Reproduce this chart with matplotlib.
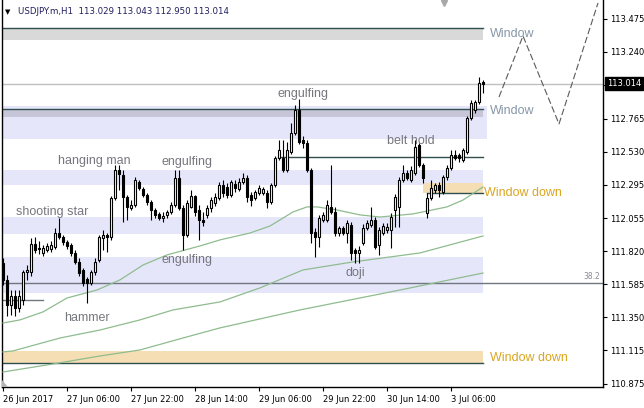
import matplotlib
matplotlib.use("Agg")
import matplotlib.pyplot as plt
from matplotlib.transforms import blended_transform_factory
import numpy as np

# H1 candles, USDJPY.m, 26 Jun 14:00 .. 3 Jul 14:00
opens = [
    111.737, 111.616, 111.438, 111.502, 111.416, 111.473, 111.673, 111.673, 111.872, 111.844,
    111.808, 111.829, 111.836, 111.851, 111.950, 111.922, 111.886, 111.865, 111.808, 111.744,
    111.687, 111.623, 111.594, 111.673, 111.758, 111.915, 111.936, 111.922, 112.200, 112.399,
    112.364, 112.207, 112.128, 112.150, 112.314, 112.264, 112.221, 112.171, 112.114, 112.086,
    112.057, 112.079, 112.100, 112.150, 112.342, 112.128, 111.936, 112.136, 112.214, 112.114,
    112.043, 112.079, 112.128, 112.164, 112.200, 112.292, 112.278, 112.221, 112.299, 112.264,
    112.314, 112.342, 112.221, 112.200, 112.235, 112.235, 112.235, 112.171, 112.292, 112.485,
    112.485, 112.399, 112.527, 112.663, 112.826, 112.613, 112.591, 112.399, 111.957, 111.922,
    112.043, 112.043, 112.136, 112.100, 111.950, 111.986, 111.950, 112.007, 111.829, 111.808,
    111.879, 111.986, 112.007, 112.043, 111.865, 111.950, 111.972, 111.972, 112.114, 112.136,
    112.328, 112.378, 112.328, 112.378, 112.577, 112.435, 112.093, 112.200, 112.257, 112.292,
    112.242, 112.349, 112.413, 112.506, 112.506, 112.470, 112.527, 112.770, 112.826, 112.883,
    113.029]
closes = [
    111.616, 111.438, 111.502, 111.416, 111.502, 111.673, 111.687, 111.872, 111.829, 111.836,
    111.844, 111.858, 111.865, 111.950, 111.922, 111.886, 111.858, 111.808, 111.744, 111.665,
    111.594, 111.594, 111.673, 111.744, 111.922, 111.936, 111.922, 112.200, 112.399, 112.371,
    112.207, 112.136, 112.150, 112.328, 112.271, 112.221, 112.171, 112.114, 112.079, 112.057,
    112.071, 112.100, 112.150, 112.342, 112.128, 111.936, 112.164, 112.214, 112.100, 112.043,
    112.029, 112.128, 112.185, 112.207, 112.292, 112.235, 112.221, 112.314, 112.271, 112.314,
    112.342, 112.207, 112.185, 112.242, 112.271, 112.264, 112.171, 112.292, 112.485, 112.542,
    112.399, 112.542, 112.663, 112.826, 112.599, 112.591, 112.399, 111.950, 111.922, 112.057,
    112.079, 112.150, 112.100, 111.950, 111.986, 111.950, 112.022, 111.808, 111.808, 111.829,
    111.986, 112.022, 112.043, 111.851, 111.972, 112.000, 111.993, 112.064, 112.207, 112.328,
    112.378, 112.342, 112.399, 112.563, 112.435, 112.342, 112.200, 112.271, 112.292, 112.257,
    112.349, 112.413, 112.506, 112.485, 112.485, 112.542, 112.770, 112.876, 112.883, 113.019,
    113.014]
highs = [
    111.772, 111.651, 111.544, 111.544, 111.544, 111.687, 111.722, 111.915, 111.922, 111.893,
    111.865, 111.879, 111.893, 111.986, 112.057, 111.936, 111.901, 111.879, 111.829, 111.772,
    111.701, 111.637, 111.687, 111.772, 111.936, 111.972, 111.950, 112.214, 112.435, 112.435,
    112.399, 112.221, 112.185, 112.349, 112.328, 112.278, 112.235, 112.185, 112.128, 112.100,
    112.100, 112.114, 112.171, 112.399, 112.399, 112.150, 112.185, 112.257, 112.221, 112.150,
    112.100, 112.150, 112.207, 112.235, 112.314, 112.328, 112.307, 112.328, 112.328, 112.342,
    112.378, 112.364, 112.242, 112.257, 112.292, 112.278, 112.257, 112.307, 112.499, 112.613,
    112.613, 112.599, 112.734, 112.862, 112.905, 112.641, 112.613, 112.413, 111.986, 112.079,
    112.100, 112.185, 112.435, 112.136, 112.000, 112.000, 112.043, 112.029, 111.844, 111.858,
    112.014, 112.043, 112.136, 112.064, 111.993, 112.022, 112.022, 112.093, 112.228, 112.349,
    112.435, 112.399, 112.428, 112.613, 112.591, 112.449, 112.235, 112.328, 112.307, 112.314,
    112.364, 112.435, 112.542, 112.542, 112.520, 112.556, 112.784, 112.898, 112.898, 113.061,
    113.043]
lows = [
    111.580, 111.359, 111.366, 111.359, 111.388, 111.438, 111.616, 111.644, 111.808, 111.801,
    111.787, 111.815, 111.815, 111.836, 111.908, 111.865, 111.836, 111.787, 111.730, 111.644,
    111.573, 111.452, 111.580, 111.651, 111.744, 111.829, 111.815, 111.901, 112.185, 112.257,
    112.029, 112.043, 112.114, 112.136, 112.257, 112.207, 112.150, 112.043, 112.057, 112.043,
    112.029, 112.057, 112.086, 112.136, 112.114, 111.829, 111.922, 112.128, 112.071, 111.901,
    112.000, 112.057, 112.100, 112.143, 112.185, 112.207, 112.200, 112.207, 112.242, 112.250,
    112.299, 112.171, 112.143, 112.185, 112.221, 112.221, 112.128, 112.157, 112.278, 112.470,
    112.385, 112.385, 112.513, 112.648, 112.584, 112.556, 112.385, 111.879, 111.779, 111.851,
    112.029, 112.029, 112.086, 111.929, 111.929, 111.936, 111.879, 111.758, 111.737, 111.737,
    111.865, 111.972, 111.993, 111.836, 111.794, 111.936, 111.950, 111.844, 111.993, 111.993,
    112.314, 112.328, 112.314, 112.364, 112.420, 112.307, 112.057, 112.185, 112.235, 112.207,
    112.228, 112.328, 112.399, 112.470, 112.456, 112.456, 112.513, 112.755, 112.805, 112.869,
    112.950]

# moving averages (bar position, price) read at a few points
fast_ma_idx = [0, 4.25, 10, 16, 23.5, 29.25, 35, 41, 49.25, 54.25, 61.75, 66.75, 72.5, 76,
               78.5, 83.5, 89.25, 94.25, 102.5, 111, 115, 120]
fast_ma = [111.309, 111.331, 111.388, 111.487, 111.544, 111.616, 111.722, 111.794, 111.858,
           111.901, 111.950, 112.000, 112.100, 112.136, 112.136, 112.114, 112.079, 112.064,
           112.086, 112.136, 112.185, 112.278]
mid_ma_idx = [0, 2.5, 14.25, 24.25, 34.25, 42.5, 54.25, 64.25, 75, 87.5, 104.25, 120]
mid_ma = [111.103, 111.110, 111.202, 111.259, 111.331, 111.402, 111.459, 111.559, 111.687,
          111.744, 111.808, 111.929]
slow_ma_idx = [0, 12.5, 24.25, 34.25, 46, 54.25, 74.25, 99.25, 120]
slow_ma = [110.960, 111.017, 111.074, 111.117, 111.210, 111.274, 111.402, 111.544, 111.665]

# zones
zone_lo = [112.620, 112.292, 111.943, 111.523]
zone_hi = [112.855, 112.399, 112.064, 111.779]
zone_end = [121, 120, 120, 120]

# projection zigzag
proj_idx = [124, 130, 139, 148.75]
proj_px = [112.919, 113.354, 112.727, 113.589]

# pattern labels
pat_text = ["shooting star", "hanging man", "engulfing", "engulfing", "engulfing",
            "belt hold", "doji", "hammer"]
pat_idx = [12.25, 22.9, 46, 46, 75, 102, 88, 21]
pat_px = [112.100, 112.463, 112.456, 111.758, 112.940, 112.606, 111.665, 111.345]

date_ticks = [0, 16, 32, 48, 64, 80, 96, 112]
date_labels = ["26 Jun 2017", "27 Jun 06:00", "27 Jun 22:00", "28 Jun 14:00",
               "29 Jun 06:00", "29 Jun 22:00", "30 Jun 14:00", "3 Jul 06:00"]
price_ticks = [110.875, 111.115, 111.350, 111.585, 111.820, 112.055, 112.295, 112.530,
               112.765, 113.005, 113.240, 113.475]
last_price = 113.014

fig = plt.figure(figsize=(6.44, 4.08), dpi=100)
ax = fig.add_axes([2 / 644, 21 / 408, 601 / 644, 387 / 408])
ax.set_xlim(-0.25, 150)
ax.set_ylim(110.853, 113.610)

lab_font = "Liberation Sans"
gray_txt = "#76767f"
win_txt = "#8797a8"
gold = "#daa520"
slate = "#2f4f4f"

# background zones
for lo, hi, end in zip(zone_lo, zone_hi, zone_end):
    ax.fill_between([-1, end], lo, hi, color="#e6e6fa", lw=0, zorder=1)
ax.fill_between([-1, 120], 113.325, 113.410, color="#d9d9d9", lw=0, zorder=1)
ax.plot([-1, 120], [113.410, 113.410], color=slate, lw=1, zorder=2)
ax.fill_between([-1, 120], 112.777, 112.834, color="#c6c6d8", lw=0, zorder=1)
ax.plot([-1, 120], [112.834, 112.834], color=slate, lw=1, zorder=2)
ax.fill_between([105, 120], 112.235, 112.307, color="#f5deb3", lw=0, zorder=1)
ax.plot([106, 120], [112.235, 112.235], color=slate, lw=1, zorder=2)
ax.fill_between([-1, 120], 111.025, 111.110, color="#f5deb3", lw=0, zorder=1)
ax.plot([-1, 120], [111.025, 111.025], color=slate, lw=1, zorder=2)

# horizontal lines
ax.axhline(last_price, color="#c0c0c0", lw=1, zorder=2)
ax.axhline(111.594, color="#6e7680", lw=1, zorder=2)
ax.plot([-1, 10], [111.473, 111.473], color="#6e7680", lw=1, zorder=2)
ax.plot([68.75, 120], [112.492, 112.492], color=slate, lw=1, zorder=2)
ax.text(149.3, 111.594 + 0.012, "38.2", ha="right", va="bottom", fontsize=5.5,
        color="#8a8a9a", zorder=5)

# moving averages
for xs, ys in [(fast_ma_idx, fast_ma), (mid_ma_idx, mid_ma), (slow_ma_idx, slow_ma)]:
    ax.plot(xs, ys, color="#8fbc8f", lw=0.9, zorder=3)

# candles
idx = np.arange(len(opens))
o = np.array(opens)
c = np.array(closes)
ax.vlines(idx, lows, highs, color="black", lw=0.8, zorder=4)
body_lo = np.minimum(o, c)
body_h = np.maximum(np.abs(c - o), 0.002)
cols = ["white" if cc >= oo else "black" for oo, cc in zip(o, c)]
ax.bar(idx, body_h, bottom=body_lo, width=0.55, color=cols, edgecolor="black",
       linewidth=0.8, zorder=4)

# projection
ax.plot(proj_idx, proj_px, color="#5a5a5a", lw=0.8, dashes=(6, 2.5), zorder=3)

# labels
for s, xi, yp in zip(pat_text, pat_idx, pat_px):
    ax.text(xi, yp, s, ha="center", va="center", fontsize=9, family=lab_font,
            color=gray_txt, zorder=5)
ax.text(121.75, 113.368, "Window", ha="left", va="center", fontsize=9, family=lab_font,
        color=win_txt, zorder=5)
ax.text(121.75, 112.819, "Window", ha="left", va="center", fontsize=9, family=lab_font,
        color=win_txt, zorder=5)
ax.text(120.3, 112.235, "Window down", ha="left", va="center", fontsize=9, family=lab_font,
        color=gold, zorder=5)
ax.text(121.75, 111.060, "Window down", ha="left", va="center", fontsize=9, family=lab_font,
        color=gold, zorder=5)

# shift marker at the top and corner marker
bt = blended_transform_factory(ax.transData, ax.transAxes)
ax.plot([110.25], [0.992], marker="v", ms=4.5, color="#a8a8a8", transform=bt, clip_on=False,
        zorder=6)
ax.fill([0, 6 / 601, 0], [0, 0, 7 / 387], color="#b4b4b4", transform=ax.transAxes, lw=0,
        zorder=6)

# axes styling
ax.spines["top"].set_visible(False)
for sp in ["left", "right", "bottom"]:
    ax.spines[sp].set_color("black")
    ax.spines[sp].set_linewidth(1)
ax.yaxis.tick_right()
ax.set_yticks(price_ticks)
ax.set_yticklabels([("" if abs(t - 113.005) < 1e-6 else f"{t:.3f}") for t in price_ticks])
ax.tick_params(axis="y", direction="out", length=3, width=0.8, labelsize=6, pad=2,
               colors="black")
ax.set_xticks(date_ticks)
ax.set_xticklabels(date_labels)
for lbl in ax.get_xticklabels():
    lbl.set_horizontalalignment("left")
ax.tick_params(axis="x", direction="out", length=3, width=0.8, labelsize=6, pad=3,
               colors="black")

# current price box
bt2 = blended_transform_factory(ax.transAxes, ax.transData)
ax.text(1.0 + 4 / 601, last_price, "113.014", transform=bt2, ha="left", va="center",
        fontsize=6, color="white", zorder=7,
        bbox=dict(boxstyle="square,pad=0.2", fc="black", ec="black"))

# header
fig.text(5 / 644, 1 - 12 / 408, "\u25bc", fontsize=5, color="black", va="center")
fig.text(18 / 644, 1 - 12 / 408, "USDJPY.m,H1  113.029 113.043 112.950 113.014",
         fontsize=6.2, color="#1f1f5f", va="center")

fig.savefig("out.png", dpi=100)
